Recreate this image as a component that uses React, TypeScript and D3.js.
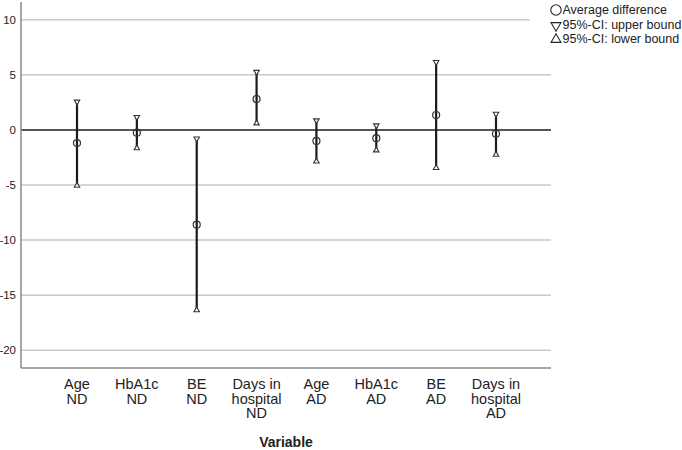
import React from "react";
import * as d3 from "d3";

const categories = [
  ["Age", "ND"],
  ["HbA1c", "ND"],
  ["BE", "ND"],
  ["Days in", "hospital", "ND"],
  ["Age", "AD"],
  ["HbA1c", "AD"],
  ["BE", "AD"],
  ["Days in", "hospital", "AD"],
];
const meanValues = [-1.2, -0.25, -8.6, 2.8, -1.0, -0.75, 1.35, -0.35];
const upperValues = [2.6, 1.2, -0.75, 5.3, 0.9, 0.45, 6.2, 1.5];
const lowerValues = [-5.1, -1.7, -16.4, 0.55, -2.9, -1.9, -3.5, -2.3];
const yTicks = [10, 5, 0, -5, -10, -15, -20];
const legendLabels = ["Average difference", "95%-CI: upper bound", "95%-CI: lower bound"];

const W = 682;
const H = 450;
const left = 21;
const right = 551;
const top = 2;
const bottom = 368;
const font = "Arial, 'Liberation Sans', sans-serif";

export default function App() {
  const y = d3.scaleLinear().domain([-21.6, 11.6]).range([bottom, top]);
  const x = d3
    .scalePoint<number>()
    .domain(categories.map((_, i) => i))
    .range([left + 56, right - 55]);
  const tri = d3.symbol().type(d3.symbolTriangle).size(13)();
  const triL = d3.symbol().type(d3.symbolTriangle).size(42)();

  return (
    <svg
      width={W}
      height={H}
      style={{ position: "absolute", left: 0, top: 0, background: "#fff" }}
      fontFamily={font}
    >
      <rect x={0} y={0} width={W} height={H} fill="#fff" />
      {yTicks.map((t) => (
        <g key={t}>
          {t !== 0 && (
            <line x1={left} x2={right} y1={y(t)} y2={y(t)} stroke="#c8c8c8" strokeWidth={1.5} />
          )}
          <text x={16} y={y(t)} dy="0.35em" textAnchor="end" fontSize={11.5} fill="#222">
            {t}
          </text>
        </g>
      ))}
      <line x1={left} x2={right} y1={y(0)} y2={y(0)} stroke="#555" strokeWidth={2} />
      <line x1={left} x2={left} y1={top} y2={bottom} stroke="#888" strokeWidth={1.5} />
      <line x1={left} x2={right} y1={bottom} y2={bottom} stroke="#888" strokeWidth={1.5} />

      {categories.map((c, i) => {
        const cx = x(i)!;
        return (
          <g key={i}>
            <line x1={cx} x2={cx} y1={y(upperValues[i])} y2={y(lowerValues[i])} stroke="#1a1a1a" strokeWidth={2.2} />
            <path
              d={tri}
              transform={`translate(${cx},${y(upperValues[i]) + 0.5}) rotate(180)`}
              fill="#fff"
              stroke="#333"
              strokeWidth={1.1}
            />
            <path
              d={tri}
              transform={`translate(${cx},${y(lowerValues[i]) - 0.5})`}
              fill="#fff"
              stroke="#333"
              strokeWidth={1.1}
            />
            <circle cx={cx} cy={y(meanValues[i])} r={3.5} fill="none" stroke="#333" strokeWidth={1.2} />
            {c.map((line, j) => (
              <text
                key={j}
                x={cx}
                y={389 + j * 14.5}
                textAnchor="middle"
                fontSize={14.5}
                fill="#222"
              >
                {line}
              </text>
            ))}
          </g>
        );
      })}
      <text x={(left + right) / 2} y={447} textAnchor="middle" fontSize={14} fontWeight="bold" fill="#222">
        Variable
      </text>

      <rect x={530} y={0} width={152} height={48} fill="#fff" />
      <g>
        <circle cx={556} cy={10} r={5.2} fill="none" stroke="#222" strokeWidth={1.1} />
        <path d={triL} transform="translate(556,25.5) rotate(180)" fill="none" stroke="#222" strokeWidth={1.1} />
        <path d={triL} transform="translate(556,39.5)" fill="none" stroke="#222" strokeWidth={1.1} />
        {legendLabels.map((l, i) => (
          <text key={i} x={562.5} y={10 + i * 14.5} dy="0.35em" fontSize={12.5} fill="#222">
            {l}
          </text>
        ))}
      </g>
    </svg>
  );
}
